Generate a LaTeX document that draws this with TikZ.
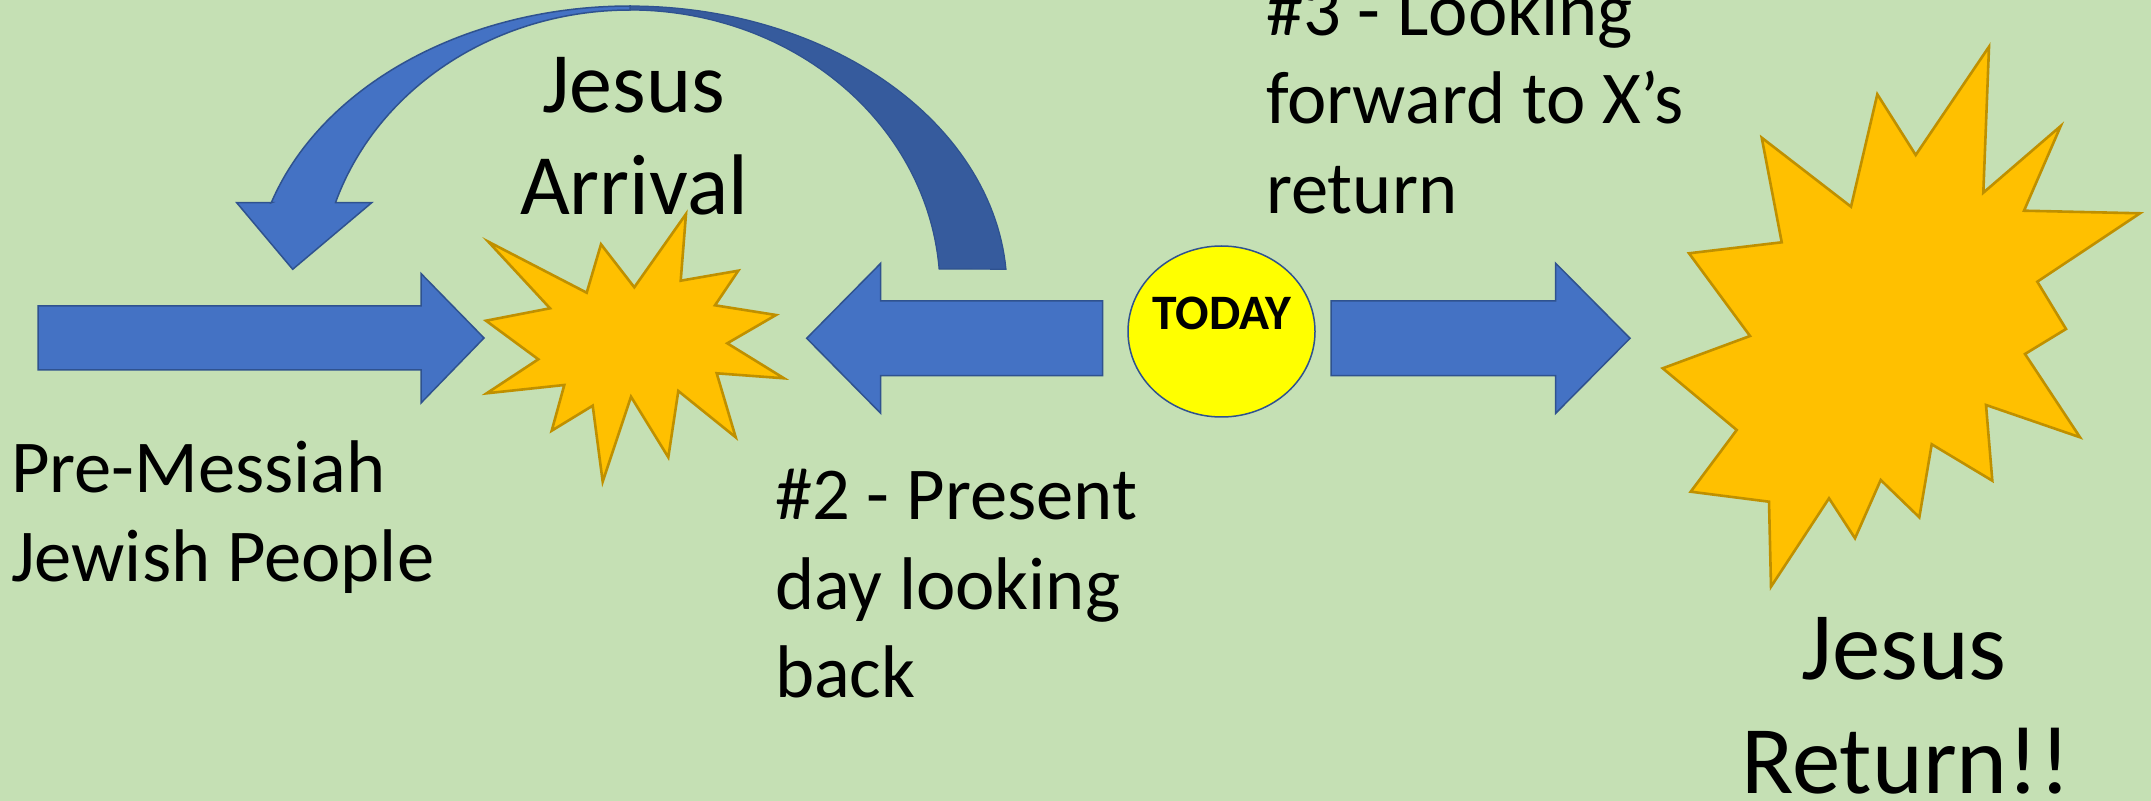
\documentclass[tikz,border=0pt]{standalone}
\usepackage{fontspec}
\setmainfont{Carlito}
\usetikzlibrary{shapes.geometric}
\definecolor{bg}{HTML}{C5E0B4}
\definecolor{arrowblue}{HTML}{4472C4}
\definecolor{arrowdark}{HTML}{365B9D}
\definecolor{arrowline}{HTML}{2F528F}
\definecolor{stargold}{HTML}{FFC000}
\definecolor{starline}{HTML}{BF9000}
\definecolor{todayfill}{HTML}{FFFF00}
\tikzset{
  blockarrow/.style={fill=arrowblue, draw=arrowline, line width=0.75pt, line join=miter},
  backband/.style={fill=arrowdark, draw=arrowline, line width=0.6pt, line join=miter},
  burst/.style={fill=stargold, draw=starline, line width=1.3pt, line join=miter},
  lbl/.style={inner sep=0pt, outer sep=0pt, text=black, font=\fontsize{37.3}{45}\selectfont},
  biglbl/.style={lbl, font=\fontsize{43}{52}\selectfont},
  hugelbl/.style={lbl, font=\fontsize{48.4}{58}\selectfont},
  todaylbl/.style={lbl, font=\bfseries\fontsize{24.8}{30}\selectfont}
}
\begin{document}
\begin{tikzpicture}[x=0.5pt,y=-0.5pt]
\fill[bg] (0,0) rectangle (2151,801);
\useasboundingbox (0,0) rectangle (2151,801);

% curved arrow: back (dark) half
\draw[backband] plot[domain=270:355.8, samples=60] ({630+377*cos(\x)},{290+284*sin(\x)})
  -- plot[domain=355.7:270, samples=60] ({630+310*cos(\x)},{290+280*sin(\x)}) -- cycle;
% curved arrow: front (light) half with head
\draw[blockarrow] (335.5,202.7) -- (371.7,202.7) -- (292.7,269.3) -- (236.7,202.7) -- (271.3,202.7)
  -- plot[domain=197.9:270, samples=60] ({630+377*cos(\x)},{290+284*sin(\x)})
  -- plot[domain=270:198.2, samples=60] ({630+310*cos(\x)},{290+280*sin(\x)}) -- cycle;

% straight block arrows
\draw[blockarrow] (38,306) -- (421,306) -- (421,273.5) -- (484,338) -- (421,403) -- (421,370) -- (38,370) -- cycle;
\draw[blockarrow] (1102.7,301) -- (880.7,301) -- (880.7,263.3) -- (806.7,338.3) -- (880.7,413.3) -- (880.7,375.7) -- (1102.7,375.7) -- cycle;
\draw[blockarrow] (1331,301) -- (1555.7,301) -- (1555.7,263.3) -- (1630,338.3) -- (1555.7,413.3) -- (1555.7,375.7) -- (1331,375.7) -- cycle;

% small burst (Jesus Arrival)
\draw[burst] (488.3,241.7) -- (586.7,292.7) -- (601,244.3) -- (634.3,287.3) -- (686,214) -- (680.7,280.7)
  -- (738.3,270.7) -- (715,305.3) -- (776,315) -- (727.3,343.3) -- (784,378.3) -- (716.7,373.3)
  -- (735.7,437.3) -- (678.3,391) -- (668.3,457.3) -- (631,396.7) -- (602.7,481.7) -- (592.7,405.7)
  -- (551.7,430.7) -- (564.3,385) -- (486.7,393.3) -- (538.3,359.3) -- (486,320.7) -- (550,308.3) -- cycle;

% big burst (Jesus Return)
\draw[burst] (1761.7,137.7) -- (1851,206.7) -- (1877.3,94.3) -- (1915.7,155) -- (1989,46.7) -- (1983.3,192.7)
  -- (2060.7,126) -- (2024,210.7) -- (2140,213.3) -- (2037.3,281.7) -- (2066,329) -- (2025,354)
  -- (2080,437.3) -- (1986,405) -- (1992.3,480.7) -- (1931.7,444.3) -- (1919.3,517.3) -- (1880.7,480)
  -- (1855,538.3) -- (1829,498.3) -- (1771,586.7) -- (1769,501.7) -- (1690.7,491.7) -- (1736.7,430)
  -- (1662.7,368.3) -- (1750,336) -- (1689,253.3) -- (1781.7,242.3) -- cycle;

% TODAY circle
\node[ellipse, draw=arrowline, fill=todayfill, line width=0.75pt, inner sep=0pt,
      minimum width=93.5pt, minimum height=85.5pt] (today) at (1221.5,331.5) {};
\node[todaylbl, anchor=base] (todaytxt) at (1221.7,330) {TODAY};

% labels
\node[biglbl, anchor=base] (ja1) at (633.5,112.7) {Jesus};
\node[biglbl, anchor=base] (ja2) at (634,215) {Arrival};

\node[lbl, anchor=base west] (fw1) at (1266,36) {\#3 - Looking};
\node[lbl, anchor=base west] (fw2) at (1266,124) {forward to X’s};
\node[lbl, anchor=base west] (fw3) at (1266,213.5) {return};

\node[lbl, anchor=base west] (pm1) at (11,492.7) {Pre-Messiah};
\node[lbl, anchor=base west] (pm2) at (11,581.7) {Jewish People};

\node[lbl, anchor=base west] (pd1) at (775,519.3) {\#2 - Present};
\node[lbl, anchor=base west] (pd2) at (775,609.3) {day looking};
\node[lbl, anchor=base west] (pd3) at (775,697.7) {back};

\node[hugelbl, anchor=base] (jr1) at (1904,679.4) {Jesus};
\node[hugelbl, anchor=base] (jr2) at (1906,793) {Return!!};
\end{tikzpicture}
\end{document}
